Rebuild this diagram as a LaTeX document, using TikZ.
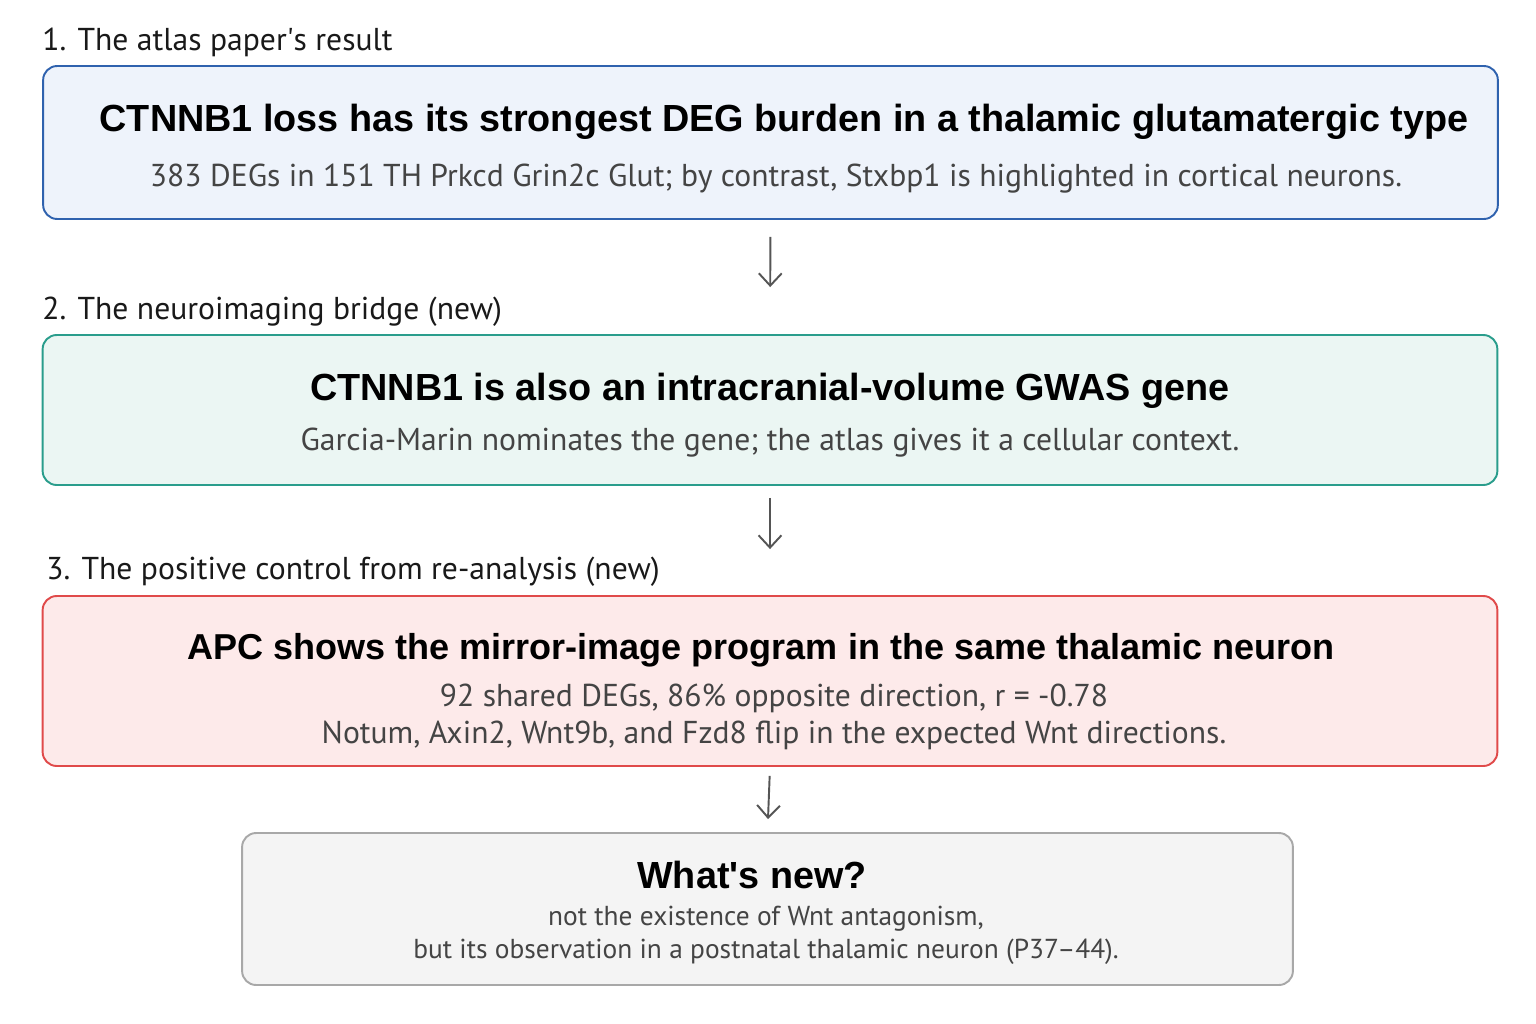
\documentclass[tikz,border=0pt]{standalone}
\usepackage{fontspec}
\setmainfont{Liberation Sans}
\newfontfamily\subfont{PT Sans}
\usetikzlibrary{arrows.meta}

\definecolor{blueline}{HTML}{2F62AE}
\definecolor{bluefill}{HTML}{EEF3FB}
\definecolor{tealline}{HTML}{2A9D8C}
\definecolor{tealfill}{HTML}{EBF6F3}
\definecolor{redline}{HTML}{E04A4A}
\definecolor{redfill}{HTML}{FDEAEA}
\definecolor{grayline}{HTML}{A8A8A8}
\definecolor{grayfill}{HTML}{F4F4F4}
\definecolor{subtext}{HTML}{444444}
\definecolor{arrowgray}{HTML}{555555}

\tikzset{
  card/.style={rounded corners=0.28cm, line width=1.1pt, minimum width=29.1cm},
  headline/.style={font=\fontsize{21.5}{26}\selectfont\bfseries, text=black},
  subline/.style={font=\subfont\fontsize{18}{21}\selectfont, text=subtext, align=center},
  smallsub/.style={subline, font=\subfont\fontsize{15.6}{18.7}\selectfont},
  steplabel/.style={font=\subfont\fontsize{18}{21}\selectfont, text=black!90, anchor=west, inner sep=0pt},
  flow/.style={draw=arrowgray, line width=1.1pt, -{Straight Barb[length=7pt, width=13pt, line width=1.1pt]}}
}

\begin{document}
\begin{tikzpicture}[x=0.02cm, y=-0.02cm, line join=round]
    \useasboundingbox (0,0) rectangle (1536,1024);

    % 第一部分：原文结果
    \node[steplabel] (lab1) at (42,42) {1. The atlas paper\textquotesingle s result};
    \node[card, draw=blueline, fill=bluefill, minimum height=3.06cm] (b1) at (770.5,142.5) {};
    \node[headline] (h1) at (784,122) {CTNNB1 loss has its strongest DEG burden in a thalamic glutamatergic type};
    \node[subline] (s1) at (776,179) {383 DEGs in 151 TH Prkcd Grin2c Glut; by contrast, Stxbp1 is highlighted in cortical neurons.};

    % 第二部分：神经影像
    \node[steplabel] (lab2) at (42,312) {2. The neuroimaging bridge (new)};
    \node[card, draw=tealline, fill=tealfill, minimum height=3.0cm] (b2) at (770,410) {};
    \node[headline] (h2) at (770,391) {CTNNB1 is also an intracranial-volume GWAS gene};
    \node[subline] (s2) at (770,443) {Garcia-Marin nominates the gene; the atlas gives it a cellular context.};

    % 第三部分：阳性对照
    \node[steplabel] (lab3) at (46,572) {3. The positive control from re-analysis (new)};
    \node[card, draw=redline, fill=redfill, minimum height=3.4cm] (b3) at (770,681) {};
    \node[headline, font=\fontsize{20.5}{25}\selectfont\bfseries] (h3) at (761,650) {APC shows the mirror-image program in the same thalamic neuron};
    \node[subline] (s3) at (774,717) {92 shared DEGs, 86\% opposite direction, r = -0.78\\Notum, Axin2, Wnt9b, and Fzd8 flip in the expected Wnt directions.};

    % 结论框
    \node[card, draw=grayline, fill=grayfill, minimum width=21.02cm, minimum height=3.04cm] (b4) at (767.5,909) {};
    \node[headline] (h4) at (752,875) {What\textquotesingle s new?};
    \node[smallsub] (s4) at (766,935.5) {not the existence of Wnt antagonism,\\but its observation in a postnatal thalamic neuron (P37–44).};

    % 箭头
    \draw[flow, shorten <=0.34cm, shorten >=0.94cm] (b1.south) -- (b2.north);
    \draw[flow, shorten <=0.24cm, shorten >=0.92cm] (b2.south) -- (b3.north);
    \draw[flow, shorten <=0.18cm, shorten >=0.26cm] (b3.south) -- (b4.north);
\end{tikzpicture}
\end{document}
